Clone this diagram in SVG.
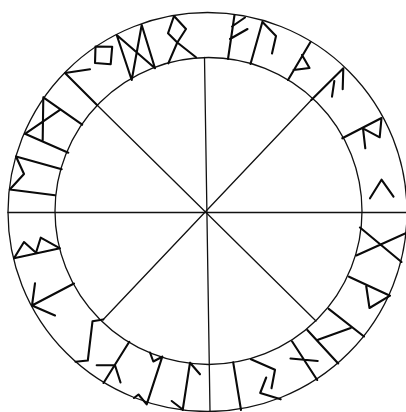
<svg xmlns="http://www.w3.org/2000/svg" width="406" height="412" viewBox="0 0 406 412">
<style>
.c{fill:none;stroke:#111;stroke-width:1.3}
.l{fill:none;stroke:#111;stroke-width:1.3;stroke-linecap:round}
.r{fill:none;stroke:#0a0a0a;stroke-width:2.1;stroke-linecap:round;stroke-linejoin:round}
</style>
<rect width="406" height="412" fill="#fff"/>
<g id="rings">
<circle class="c" cx="207.5" cy="212" r="199.5"/>
<circle class="c" cx="208.5" cy="211" r="153.5"/>
</g>
<g id="connectors">
<line class="l" x1="204.5" y1="57.5" x2="210" y2="411"/>
<line class="l" x1="8" y1="212.5" x2="406" y2="212.5"/>
<line class="l" x1="97" y1="105" x2="316" y2="321"/>
<line class="l" x1="103.3" y1="319.5" x2="311.3" y2="100"/>
</g>
<g id="fehu" class="r"><path d="M234.5,15L228,59M232,26.5L245,17.5M230,39L247.5,29"/></g>
<g id="uruz" class="r"><path d="M262.5,21.5L250.5,64M263,22.5L276,36L272,53.5"/></g>
<g id="thurisaz" class="r"><path d="M310.5,42L288,80M302,55L309.5,68L293.5,70"/></g>
<g id="ansuz" class="r"><path d="M311.3,100L343.3,68.3L342.7,89.3M334.3,81L332,96.7"/></g>
<g id="raidho" class="r"><path d="M342.3,138.3L381.5,118L379.7,137.3L363,128.3L365.3,148.3"/></g>
<g id="kaunan" class="r"><path d="M370,198.3L381.5,179.7L393.5,196.7"/></g>
<g id="gebo" class="r"><path d="M360,227.5L401.5,262M356.3,255.5L405.7,233.3"/></g>
<g id="wunjo" class="r"><path d="M349,276.7L390,295.7L369.5,308L366.2,286"/></g>
<g id="hagalaz" class="r"><path d="M328.7,308.8L364,336.5M307.3,330L338.2,363.5M318,339.7L350.7,328"/></g>
<g id="naudiz" class="r"><path d="M292,341.3L317.2,380M290.5,358.5L317.7,361"/></g>
<g id="jera" class="r"><path d="M251,359.3L275,369.7L271.5,388.3M266.2,377.5L260.2,393L280.7,399.3"/></g>
<g id="isa" class="r"><path d="M233.2,362.3L241,410"/></g>
<g id="eihwaz" class="r"><path d="M190,362.7L182.7,410M190,362.7L200,374.3M171.7,401L182.7,409.5"/></g>
<g id="perthro" class="r"><path d="M162.3,356.7L146.7,404.3M150,352.5L153.3,361.5L162.3,356.7M134,398L138.5,394.5L146.7,404.3"/></g>
<g id="algiz" class="r"><path d="M129.3,341.8L103.5,383M96.7,365.3L115,365.3L120.5,382.5"/></g>
<g id="sowilo" class="r"><path d="M103.3,319.5L92.5,321.3L87.8,360.5L75.5,361.7"/></g>
<g id="tiwaz" class="r"><path d="M74,283.5L32,305.5L35,283.3M32,305.5L55,315.5"/></g>
<g id="berkana" class="r"><path d="M14,258.3L60,248.3L40.7,237.7L36,252.8L24,242L14,258.3"/></g>
<g id="ehwaz" class="r"><path d="M9.8,189.5L55,195.3M16,156.5L61.7,169.2M16,156.5L24,174L10.7,188.5"/></g>
<g id="mannaz" class="r"><path d="M25,133.8L68.3,152.7M43.3,97.3L82.2,124.7M43.3,97.3L42.7,140M25,133.8L60.3,109.7"/></g>
<g id="laguz" class="r"><path d="M97,105L65,73L90,69.3"/></g>
<g id="ingwaz" class="r"><path d="M95.5,46.5L112.2,46.7L110.7,64.2L95,63Z"/></g>
<g id="dagaz" class="r"><path d="M116.7,35L131.7,80L141.7,25L155,68.3L116.7,35"/></g>
<g id="othala" class="r"><path d="M174,16L186,29L177.3,42.5L168,33.3Z M177.3,42.5L168.3,63.3M177.3,42.5L196,57.3"/></g>
</svg>
